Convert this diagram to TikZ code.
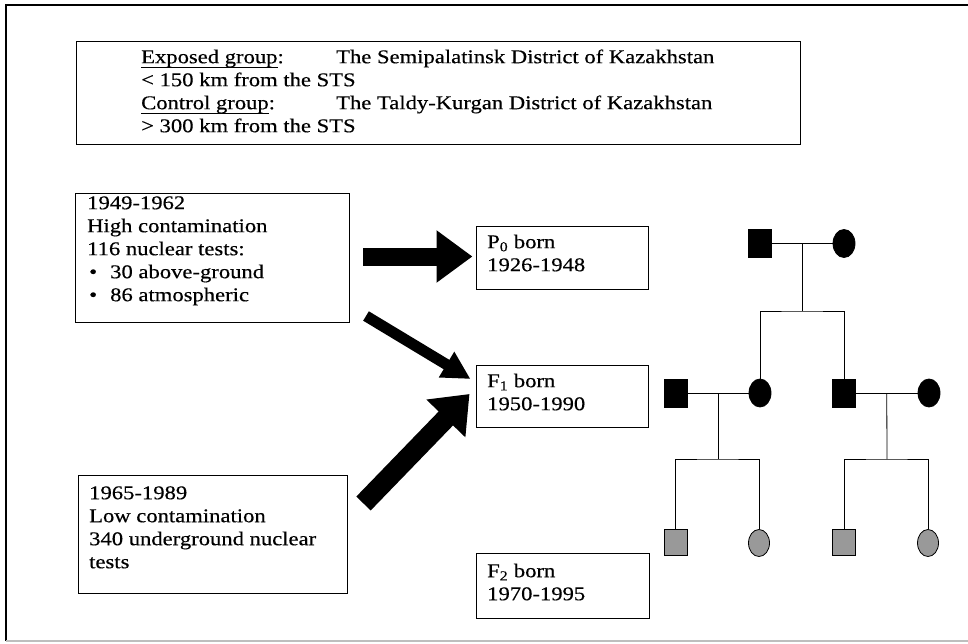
\documentclass[tikz,border=0pt]{standalone}
\usepackage{fontspec}
\setmainfont{Liberation Serif}[FakeStretch=1.16,FakeBold=0.4]
\usetikzlibrary{arrows.meta,shapes.geometric,calc}
\definecolor{pedgray}{RGB}{153,153,153}
\definecolor{framegray}{RGB}{190,190,190}
\newsavebox{\myulbox}
\newcommand{\myul}[1]{\sbox{\myulbox}{#1}\rlap{\rule[-5pt]{\wd\myulbox}{0.9pt}}\usebox{\myulbox}}
\begin{document}
\begin{tikzpicture}[x=1pt,y=-1pt,
  box/.style={draw=black,line width=1pt,inner sep=0pt,rectangle},
  txt/.style={anchor=north west,inner sep=0pt,align=left,font=\fontsize{19.5}{23}\selectfont},
  male/.style={rectangle,draw=black,line width=0.8pt,fill=black,inner sep=0pt,minimum width=23pt,minimum height=28pt},
  female/.style={ellipse,draw=black,line width=0.8pt,fill=black,inner sep=0pt,minimum width=22pt,minimum height=28pt},
  malegray/.style={male,fill=pedgray,minimum height=26pt},
  femalegray/.style={female,fill=pedgray,minimum width=21pt,minimum height=27pt},
  pedline/.style={draw=black,line width=0.8pt},
  bigarrowA/.style={draw=black,line width=18pt,-{Triangle[width=50pt,length=36pt]}},
  bigarrowB/.style={draw=black,line width=11pt,-{Triangle[width=28pt,length=28pt]}},
  bigarrowC/.style={draw=black,line width=20pt,-{Triangle[width=52pt,length=34pt]}}]
\useasboundingbox (0,0) rectangle (968,643);
% outer frame
\draw[line width=1.2pt,black] (6,641) -- (6,5) -- (968,5);
\draw[line width=1.2pt,framegray] (6,641) -- (968,641);

% boxes
\node[box,minimum width=724pt,minimum height=103pt] (topbox) at (438,92.5) {};
\node[box,minimum width=274pt,minimum height=129pt] (high) at (212,257.5) {};
\node[box,minimum width=269pt,minimum height=118pt] (low) at (212.5,534) {};
\node[box,minimum width=172pt,minimum height=63pt] (p0) at (562,257.5) {};
\node[box,minimum width=172pt,minimum height=62pt] (f1) at (562,396) {};
\node[box,minimum width=173pt,minimum height=65pt] (f2) at (562.5,585.5) {};

% texts
\node[txt] (toptxt) at (141,46.9) {\strut\makebox[195pt][l]{\myul{Exposed group}:}The Semipalatinsk District of Kazakhstan\\
< 150 km from the STS\\
\makebox[195pt][l]{\myul{Control group}:}The Taldy-Kurgan District of Kazakhstan\\
> 300 km from the STS};
\node[txt] (hightxt) at (87,192.9) {\strut 1949-1962\\
High contamination\\
116 nuclear tests:\\
\makebox[23pt][l]{\hspace{2pt}•}30 above-ground\\
\makebox[23pt][l]{\hspace{2pt}•}86 atmospheric};
\node[txt] (lowtxt) at (89,482.9) {\strut 1965-1989\\
Low contamination\\
340 underground nuclear\\
tests};
\node[txt] (p0txt) at (487,231.9) {\strut P\textsubscript{0} born\\ 1926-1948};
\node[txt] (f1txt) at (487,370.9) {\strut F\textsubscript{1} born\\ 1950-1990};
\node[txt] (f2txt) at (487,560.9) {\strut F\textsubscript{2} born\\ 1970-1995};

% arrows
\coordinate (aS) at (363,256.5);
\coordinate (bS) at (366,316);
\coordinate (cS) at (363.5,503.5);
\draw[bigarrowA] (aS) -- ($(p0.west)+(-3,-1)$);
\draw[bigarrowB] (bS) -- ($(f1.west)+(-5,-17)$);
\draw[bigarrowC] (cS) -- ($(f1.west)+(-6,-2)$);

% pedigree
\node[male] (sqP) at (759.5,243.5) {};
\node[female] (ciP) at (844,243.5) {};
\node[male] (sqA) at (675.5,393) {};
\node[female] (ciA) at (760,393) {};
\node[male] (sqB) at (844,393) {};
\node[female] (ciB) at (929,393) {};
\node[malegray] (sqA2) at (675.5,542) {};
\node[femalegray] (ciA2) at (759,543) {};
\node[malegray] (sqB2) at (844,542) {};
\node[femalegray] (ciB2) at (928,543) {};

\draw[pedline] (sqP) -- (ciP);
\coordinate (mP) at ($(sqP.east)!0.5!(ciP.west)$);
\coordinate (sibP) at (802,311);
\draw[pedline] (mP) -- (sibP);
\draw[pedline] (ciA.north) |- (sibP) -| (sqB.north);

\draw[pedline] (sqA) -- (ciA);
\coordinate (mA) at ($(sqA.east)!0.5!(ciA.west)$);
\coordinate (sibA) at (718,459);
\draw[pedline] (mA) -- (sibA);
\draw[pedline] (sqA2.north) |- (sibA) -| (ciA2.north);

\draw[pedline] (sqB) -- (ciB);
\coordinate (mB) at ($(sqB.east)!0.5!(ciB.west)$);
\coordinate (sibB) at (887,459);
\draw[pedline] (mB) -- (sibB);
\draw[pedline] (sqB2.north) |- (sibB) -| (ciB2.north);
\end{tikzpicture}
\end{document}
